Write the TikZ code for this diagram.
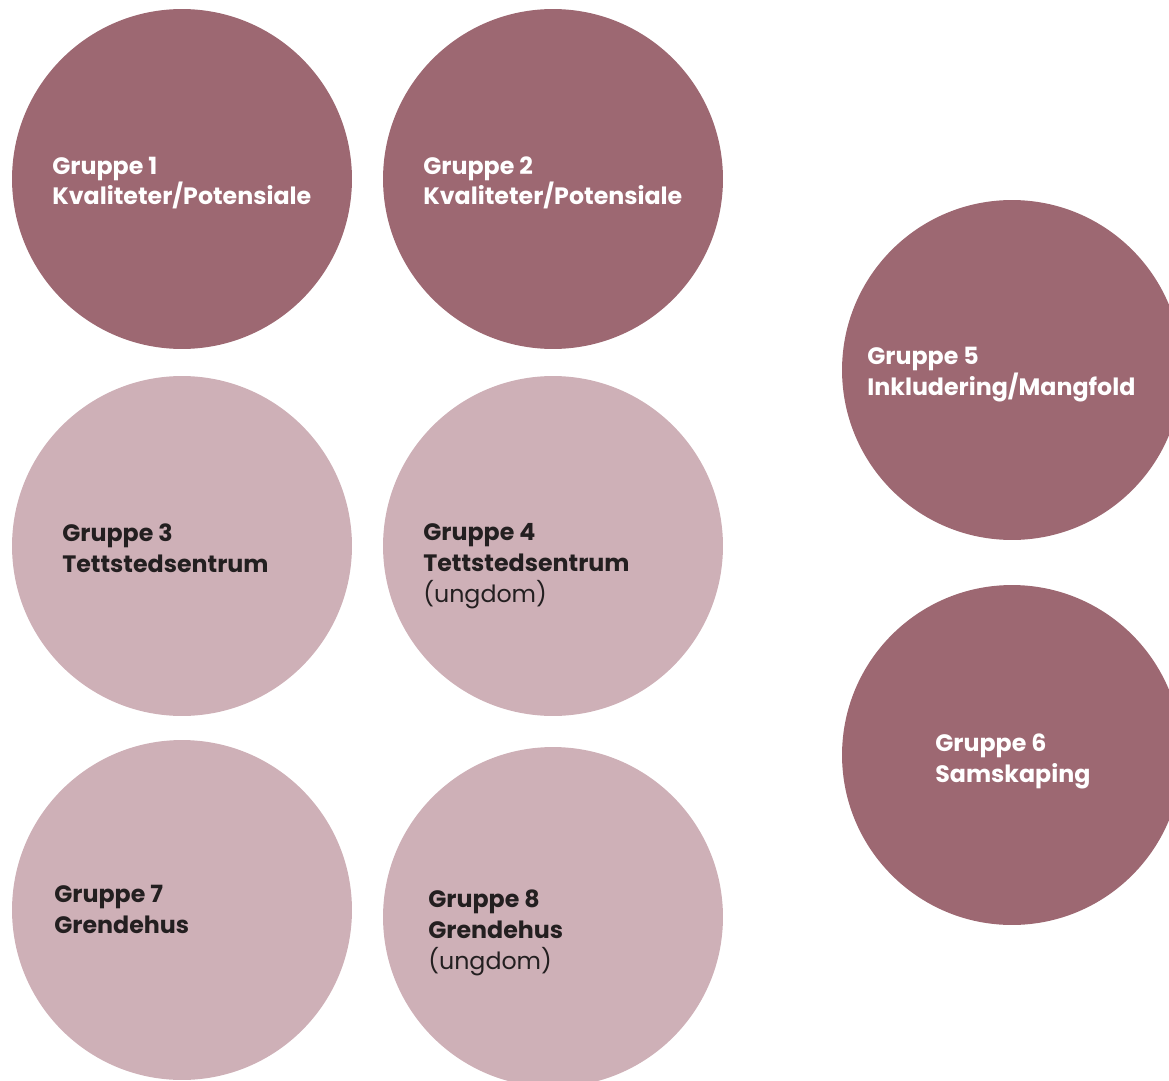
\documentclass[tikz,border=0pt]{standalone}
\usepackage{fontspec}
\setmainfont{Poppins}
\usepackage{tikz}
\definecolor{mauvedark}{RGB}{157,104,114}
\definecolor{mauvelight}{RGB}{206,176,183}
\definecolor{inkdark}{RGB}{35,31,32}

\begin{document}
\begin{tikzpicture}[x=0.02cm, y=-0.02cm,
  disc/.style={circle, minimum size=6.8cm, inner sep=0pt},
  darkdisc/.style={disc, fill=mauvedark},
  lightdisc/.style={disc, fill=mauvelight},
  label/.style={anchor=base west, inner sep=0pt, align=left,
    font=\fontsize{13.5}{17.6}\selectfont\bfseries}]
  \useasboundingbox (0,0) rectangle (1169,1081);
  \clip (0,0) rectangle (1169,1081);
  % circles
  \node[darkdisc]  (g1) at (182,179) {};
  \node[darkdisc]  (g2) at (553,179) {};
  \node[lightdisc] (g3) at (182,546) {};
  \node[lightdisc] (g4) at (553,546) {};
  \node[darkdisc]  (g5) at (1012,370) {};
  \node[darkdisc]  (g6) at (1012,755) {};
  \node[lightdisc] (g7) at (182,910) {};
  \node[lightdisc] (g8) at (553,917) {};
  % texts (anchored at the baseline of the last line)
  \node[label, text=white]   (t1) at (52,205)  {Gruppe 1\\Kvaliteter/Potensiale};
  \node[label, text=white]   (t2) at (423,205) {Gruppe 2\\Kvaliteter/Potensiale};
  \node[label, text=inkdark] (t3) at (62,572)  {Gruppe 3\\Tettstedsentrum};
  \node[label, text=inkdark] (t4) at (423,602) {Gruppe 4\\Tettstedsentrum\\\mdseries(ungdom)};
  \node[label, text=white]   (t5) at (867,395) {Gruppe 5\\Inkludering/Mangfold};
  \node[label, text=white]   (t6) at (935,782) {Gruppe 6\\Samskaping};
  \node[label, text=inkdark] (t7) at (54,933)  {Gruppe 7\\Grendehus};
  \node[label, text=inkdark] (t8) at (428,969) {Gruppe 8\\Grendehus\\\mdseries(ungdom)};
\end{tikzpicture}
\end{document}
